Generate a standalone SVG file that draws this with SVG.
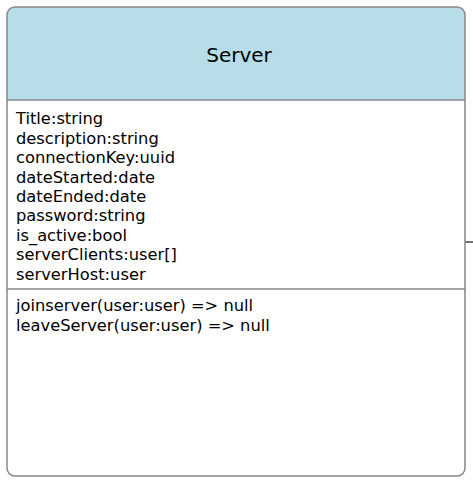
<svg xmlns="http://www.w3.org/2000/svg" width="473" height="489" viewBox="0 0 473 489">
<style>
.t{font-family:"DejaVu Sans",Verdana,sans-serif;font-size:16.3px;fill:#000}
.h{font-family:"DejaVu Sans",Verdana,sans-serif;font-size:20px;fill:#000}
.b{stroke:#888;stroke-width:1.5;fill:none}
</style>
<rect width="473" height="489" fill="#fff"/>
<g id="connectors">
<line x1="465" y1="242" x2="473" y2="242" stroke="#444" stroke-width="1.5"/>
</g>
<g id="server">
<path d="M7,100 V15 a8,8 0 0 1 8,-8 H457 a8,8 0 0 1 8,8 V100 Z" fill="#b7dde8"/>
<rect x="7" y="7" width="458" height="469" rx="8" class="b"/>
<line x1="7" y1="100" x2="465" y2="100" class="b"/>
<line x1="7" y1="289" x2="465" y2="289" class="b"/>
<text class="h" x="239" y="62" text-anchor="middle">Server</text>
<text class="t" x="16" y="124">Title:string</text>
<text class="t" x="16" y="143.5">description:string</text>
<text class="t" x="16" y="163">connectionKey:uuid</text>
<text class="t" x="16" y="182.5">dateStarted:date</text>
<text class="t" x="16" y="202">dateEnded:date</text>
<text class="t" x="16" y="221">password:string</text>
<text class="t" x="16" y="240.5">is_active:bool</text>
<text class="t" x="16" y="260">serverClients:user[]</text>
<text class="t" x="16" y="279.5">serverHost:user</text>
<text class="t" x="16" y="311">joinserver(user:user) =&gt; null</text>
<text class="t" x="16" y="330.5">leaveServer(user:user) =&gt; null</text>
</g>
</svg>
